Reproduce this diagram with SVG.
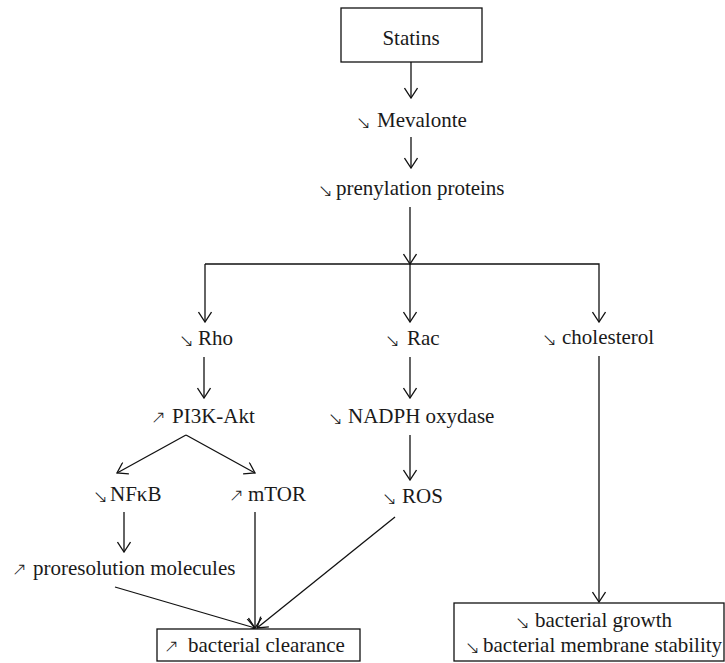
<svg xmlns="http://www.w3.org/2000/svg" width="725" height="663" viewBox="0 0 725 663">
<style>
.t{font-family:"Liberation Serif","Times New Roman",serif;font-size:21px;fill:#1a1a1a}
.a{font-family:"DejaVu Sans",sans-serif;font-weight:200;font-size:18px;fill:#1a1a1a}
.c{stroke:#111;stroke-width:1.3;fill:none}
.b{stroke:#111;stroke-width:1.3;fill:#fff}
</style>
<defs>
<marker id="arr" viewBox="0 0 12 14" refX="11" refY="7" markerWidth="12" markerHeight="14" markerUnits="userSpaceOnUse" orient="auto">
<path d="M1,0.5 L11,7 L1,13.5" fill="none" stroke="#111" stroke-width="1.3"/>
</marker>
</defs>
<rect width="725" height="663" fill="#fff"/>
<g id="connectors" class="c">
<line x1="411" y1="62" x2="411" y2="98" marker-end="url(#arr)"/>
<line x1="411" y1="137" x2="411" y2="168" marker-end="url(#arr)"/>
<line x1="410" y1="207" x2="410" y2="264" marker-end="url(#arr)"/>
<polyline points="205,264 599,264 599,322" marker-end="url(#arr)"/>
<line x1="205" y1="264" x2="205" y2="322" marker-end="url(#arr)"/>
<line x1="410" y1="264" x2="410" y2="322" marker-end="url(#arr)"/>
<line x1="204" y1="357" x2="204" y2="398" marker-end="url(#arr)"/>
<line x1="410" y1="357" x2="410" y2="398" marker-end="url(#arr)"/>
<line x1="186" y1="435" x2="117" y2="473" marker-end="url(#arr)"/>
<line x1="186" y1="435" x2="255" y2="473" marker-end="url(#arr)"/>
<line x1="410" y1="435" x2="410" y2="480" marker-end="url(#arr)"/>
<line x1="124" y1="512" x2="124" y2="552" marker-end="url(#arr)"/>
<line x1="255" y1="512" x2="255" y2="628" marker-end="url(#arr)"/>
<line x1="115" y1="587" x2="255" y2="628" marker-end="url(#arr)"/>
<line x1="395" y1="517" x2="257" y2="628" marker-end="url(#arr)"/>
<line x1="599" y1="356" x2="599" y2="602" marker-end="url(#arr)"/>
</g>
<g id="statins"><rect class="b" x="341" y="8" width="141" height="54"/><text class="t" x="411" y="45" text-anchor="middle">Statins</text></g>
<g id="mevalonte"><text class="a" x="356" y="129">↘</text><text class="t" x="377" y="127">Mevalonte</text></g>
<g id="prenylation"><text class="a" x="318" y="197">↘</text><text class="t" x="336" y="195">prenylation proteins</text></g>
<g id="rho"><text class="a" x="179" y="347">↘</text><text class="t" x="198" y="345">Rho</text></g>
<g id="rac"><text class="a" x="385" y="347">↘</text><text class="t" x="407" y="345">Rac</text></g>
<g id="cholesterol"><text class="a" x="542" y="346">↘</text><text class="t" x="562" y="344">cholesterol</text></g>
<g id="pi3k"><text class="a" x="151" y="423">↗</text><text class="t" x="172" y="423">PI3K-Akt</text></g>
<g id="nadph"><text class="a" x="328" y="425">↘</text><text class="t" x="348" y="423">NADPH oxydase</text></g>
<g id="nfkb"><text class="a" x="93" y="503">↘</text><text class="t" x="110" y="501">NFκB</text></g>
<g id="mtor"><text class="a" x="229" y="501">↗</text><text class="t" x="248" y="501">mTOR</text></g>
<g id="ros"><text class="a" x="382" y="505">↘</text><text class="t" x="402" y="503">ROS</text></g>
<g id="proresolution"><text class="a" x="12" y="575">↗</text><text class="t" x="33" y="575">proresolution molecules</text></g>
<g id="clearance"><rect class="b" x="157" y="629" width="203" height="32"/><text class="a" x="164" y="652">↗</text><text class="t" x="188" y="652">bacterial clearance</text></g>
<g id="growth"><rect class="b" x="454" y="603" width="270" height="58"/><text class="a" x="515" y="629">↘</text><text class="t" x="535" y="627">bacterial growth</text><text class="a" x="465" y="654">↘</text><text class="t" x="483" y="652">bacterial membrane stability</text></g>
</svg>
